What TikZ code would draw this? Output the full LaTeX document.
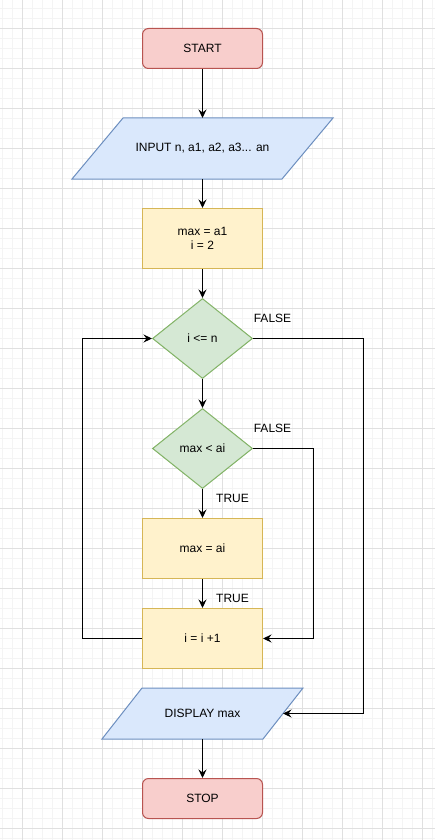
\documentclass[tikz,border=0pt]{standalone}
\usepackage{fontspec}
\setmainfont{Liberation Sans}
\usetikzlibrary{arrows.meta,shapes.geometric,backgrounds}
\definecolor{redfill}{HTML}{F8CECC}
\definecolor{redline}{HTML}{B85450}
\definecolor{bluefill}{HTML}{DAE8FC}
\definecolor{blueline}{HTML}{6C8EBF}
\definecolor{yelfill}{HTML}{FFF2CC}
\definecolor{yelline}{HTML}{D6B656}
\definecolor{grnfill}{HTML}{D5E8D4}
\definecolor{grnline}{HTML}{82B366}
\definecolor{gridmajor}{HTML}{E0E0E0}
\definecolor{gridminor}{HTML}{F4F4F4}
\tikzset{
  base/.style={font=\fontsize{12}{14.4}\selectfont, text=black, line width=1pt, inner sep=0pt, align=center},
  terminal/.style={base, draw=redline, fill=redfill, rounded corners=6pt, minimum width=120pt, minimum height=40pt},
  procbox/.style={base, draw=yelline, fill=yelfill, minimum width=120pt, minimum height=60pt},
  decision/.style={base, diamond, aspect=1.25, draw=grnline, fill=grnfill, minimum width=100pt, minimum height=80pt},
  iobox/.style={base, rectangle},
  iofill/.style={draw=blueline, fill=bluefill, line width=1pt, line join=miter},
  arr/.style={draw=black, line width=1pt, -{Stealth[length=8.5pt,width=8pt,inset=3pt]}},
  lbl/.style={font=\fontsize{12}{14.4}\selectfont, text=black, inner sep=0pt},
}
\begin{document}
\begin{tikzpicture}[x=1pt,y=-1pt]
\useasboundingbox (0,0) rectangle (434,840);
\begin{scope}[shift={(0.5,0.5)}]
\begin{scope}[on background layer]
  \fill[white] (-0.5,-0.5) rectangle (433.5,839.5);
  \foreach \x in {2,12,...,432} \draw[gridminor, line width=1pt] (\x,-1) -- (\x,841);
  \foreach \y in {8,18,...,838} \draw[gridminor, line width=1pt] (-1,\y) -- (435,\y);
  \foreach \x in {22,62,...,422} \draw[gridmajor, line width=1pt] (\x,-1) -- (\x,841);
  \foreach \y in {28,68,...,828} \draw[gridmajor, line width=1pt] (-1,\y) -- (435,\y);
\end{scope}

\node[terminal] (start) at (202,48) {START};
\node[iobox, minimum width=209pt, minimum height=60pt] (inp) at (202,148) {INPUT n, a1, a2, a3... an};
\node[procbox] (init) at (202,238) {max = a1\\i = 2};
\node[decision] (d1) at (202,338) {i <= n};
\node[decision] (d2) at (202,448) {max < ai};
\node[procbox] (maxai) at (202,548) {max = ai};
\node[procbox] (inc) at (202,638) {i = i +1};
\node[iobox, minimum width=160pt, minimum height=50pt] (disp) at (202,713) {DISPLAY max};
\node[terminal] (stop) at (202,798) {STOP};

\begin{scope}[on background layer]
  \draw[iofill] ([xshift=25.5pt]inp.north west) -- ([xshift=25.5pt]inp.north east)
     -- ([xshift=-25.5pt]inp.south east) -- ([xshift=-25.5pt]inp.south west) -- cycle;
  \draw[iofill] ([xshift=20pt]disp.north west) -- ([xshift=20pt]disp.north east)
     -- ([xshift=-20pt]disp.south east) -- ([xshift=-20pt]disp.south west) -- cycle;
\end{scope}

\node[lbl] (f1) at (272,318) {FALSE};
\node[lbl] (f2) at (272,428) {FALSE};
\node[lbl] (t1) at (232,498) {TRUE};
\node[lbl] (t2) at (232,598) {TRUE};

\draw[arr] (start) -- (inp);
\draw[arr] (inp) -- (init);
\draw[arr] (init) -- (d1);
\draw[arr] (d1) -- (d2);
\draw[arr] (d2) -- (maxai);
\draw[arr] (maxai) -- (inc);
\draw[arr] (inc.west) -- ++(-60,0) |- (d1.west);
\draw[arr] (d1.east) -- ++(110,0) |- (disp.east);
\draw[arr] (d2.east) -- ++(60,0) |- (inc.east);
\draw[arr] (disp) -- (stop);
\end{scope}
\end{tikzpicture}
\end{document}
